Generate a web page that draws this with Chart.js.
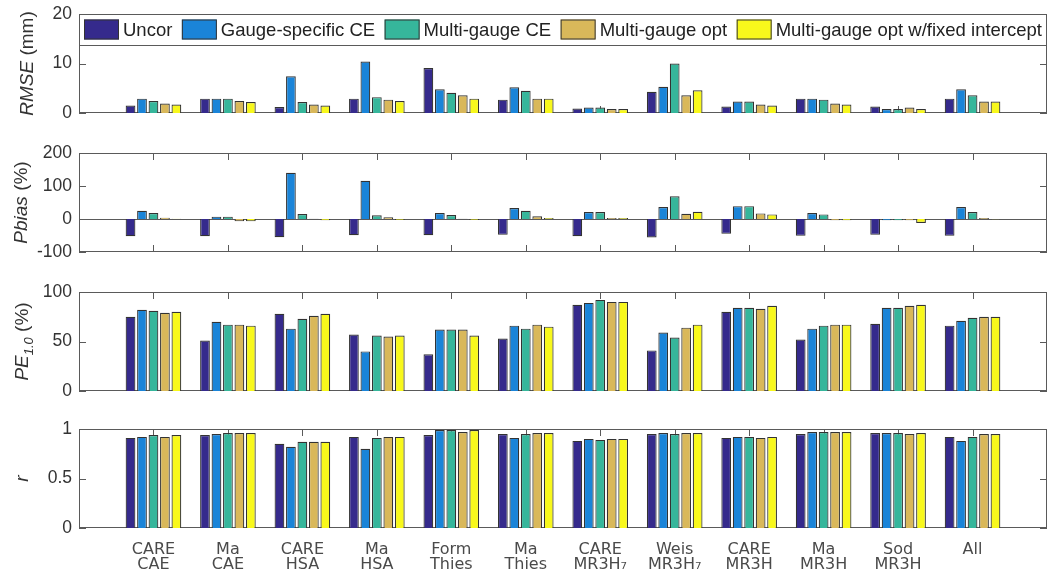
<!DOCTYPE html>
<html>
<head>
<meta charset="utf-8">
<script src="https://cdn.jsdelivr.net/npm/chart.js@4.4.1/dist/chart.umd.min.js"></script>
<style>
  body { margin: 0; background: #fff; }
  #wrap { position: relative; width: 1051px; height: 576px; overflow: hidden; }
  #wrap canvas { position: absolute; left: 0; }
</style>
</head>
<body>
<div id="wrap">
  <canvas id="rmse"></canvas>
  <canvas id="pbias"></canvas>
  <canvas id="pe"></canvas>
  <canvas id="r"></canvas>
</div>
<script>
const sites = [
  ['CARE', 'CAE'], ['Ma', 'CAE'], ['CARE', 'HSA'], ['Ma', 'HSA'],
  ['Form', 'Thies'], ['Ma', 'Thies'], ['CARE', 'MR3H\u2087'], ['Weis', 'MR3H\u2087'],
  ['CARE', 'MR3H'], ['Ma', 'MR3H'], ['Sod', 'MR3H'], ['All']
];
const seriesNames = ['Uncor', 'Gauge-specific CE', 'Multi-gauge CE', 'Multi-gauge opt', 'Multi-gauge opt w/fixed intercept'];
const seriesColors = ['#352a8c', '#1a84d8', '#36b69b', '#d9b85a', '#f8f81c'];

// one row per series, one value per site
const rmseValues = [
  [1.5, 2.9, 1.2, 2.9, 9.1, 2.7, 0.9, 4.3, 1.3, 2.9, 1.3, 2.9],
  [2.9, 2.9, 7.4, 10.4, 4.8, 5.2, 1.1, 5.3, 2.3, 2.9, 0.8, 4.8],
  [2.4, 2.9, 2.2, 3.2, 4.1, 4.5, 1.1, 10.0, 2.3, 2.7, 0.8, 3.6],
  [1.9, 2.4, 1.7, 2.7, 3.6, 2.9, 0.8, 3.6, 1.7, 1.9, 1.1, 2.3],
  [1.7, 2.2, 1.5, 2.4, 2.9, 2.9, 0.8, 4.6, 1.5, 1.7, 0.8, 2.3]
];
const pbiasValues = [
  [-52, -52, -55, -49, -49, -48, -52, -56, -45, -51, -48, -51],
  [25, 7, 140, 116, 18, 33, 21, 36, 39, 18, -4, 36],
  [18, 7, 15, 11, 12, 25, 21, 69, 39, 14, -4, 21],
  [4, -7, 0.5, 5, 0.5, 8, 3, 16, 17, -4, -4, 3],
  [1, -7, -4, -3, -3, 3, 3, 22, 14, -4, -12, -1]
];
const peValues = [
  [75, 51, 78, 57, 37, 53, 87, 41, 80, 52, 68, 66],
  [82, 70, 63, 40, 62, 66, 89, 59, 84, 63, 84, 71],
  [81, 67, 73, 56, 62, 63, 92, 54, 84, 66, 84, 74],
  [79, 67, 76, 55, 62, 67, 90, 64, 83, 67, 86, 75],
  [80, 66, 78, 56, 56, 65, 90, 67, 86, 67, 87, 75]
];
const rValues = [
  [0.91, 0.94, 0.85, 0.92, 0.94, 0.95, 0.88, 0.95, 0.91, 0.95, 0.96, 0.92],
  [0.92, 0.95, 0.82, 0.80, 0.99, 0.91, 0.90, 0.96, 0.92, 0.97, 0.96, 0.88],
  [0.94, 0.96, 0.87, 0.91, 0.99, 0.95, 0.89, 0.95, 0.92, 0.97, 0.96, 0.92],
  [0.92, 0.96, 0.87, 0.92, 0.97, 0.96, 0.90, 0.96, 0.91, 0.97, 0.95, 0.95],
  [0.94, 0.96, 0.87, 0.92, 0.99, 0.96, 0.90, 0.96, 0.92, 0.97, 0.96, 0.95]
];

const tickFont = { family: '"Liberation Sans", Arial, sans-serif', size: 17.5 };
const axisColor = '#5a5a5a';

// empty slot at each end so the groups sit one step in from the box
const xLabels = [''].concat(sites, ['']);

const framePlugin = {
  id: 'frame',
  beforeDatasetsDraw(chart) {
    const { ctx, chartArea: a, scales: { x, y } } = chart;
    ctx.save();
    ctx.strokeStyle = axisColor;
    ctx.lineWidth = 1;
    ctx.beginPath();
    for (let i = 1; i <= sites.length; i++) {
      const px = Math.round(x.getPixelForValue(i)) + 0.5;
      ctx.moveTo(px, a.top); ctx.lineTo(px, a.top + 7);
      ctx.moveTo(px, a.bottom); ctx.lineTo(px, a.bottom - 7);
    }
    y.ticks.forEach(t => {
      const py = Math.round(y.getPixelForValue(t.value)) + 0.5;
      ctx.moveTo(a.left, py); ctx.lineTo(a.left + 7, py);
      ctx.moveTo(a.right, py); ctx.lineTo(a.right - 7, py);
    });
    if (y.min < 0) {
      const pz = Math.round(y.getPixelForValue(0)) + 0.5;
      ctx.moveTo(a.left, pz); ctx.lineTo(a.right, pz);
    }
    ctx.stroke();
    ctx.strokeRect(a.left + 0.5, a.top + 0.5, a.width - 1, a.height - 1);
    ctx.restore();
  }
};

const titlePlugin = {
  id: 'yTitle',
  afterDraw(chart, args, opts) {
    const { ctx, chartArea: a } = chart;
    const parts = opts.parts;
    const size = 19;
    ctx.save();
    ctx.translate(opts.x, (a.top + a.bottom) / 2);
    ctx.rotate(-Math.PI / 2);
    ctx.fillStyle = '#333';
    ctx.textBaseline = 'alphabetic';
    const fontOf = p => (p.italic ? 'italic ' : '') + (p.sub ? 13 : size) + 'px "Liberation Sans", Arial, sans-serif';
    let total = 0;
    parts.forEach(p => { ctx.font = fontOf(p); total += ctx.measureText(p.text).width; });
    let cx = -total / 2;
    parts.forEach(p => {
      ctx.font = fontOf(p);
      ctx.fillText(p.text, cx, p.sub ? 5 : 0);
      cx += ctx.measureText(p.text).width;
    });
    ctx.restore();
  }
};

const legendPlugin = {
  id: 'boxLegend',
  afterDatasetsDraw(chart, args, opts) {
    if (!opts.show) return;
    const { ctx, chartArea: a } = chart;
    const h = 31, sw = 35, sh = 20, pad = 5, gapText = 4;
    ctx.save();
    ctx.fillStyle = '#fff';
    ctx.fillRect(a.left, a.top, a.width, h);
    ctx.strokeStyle = axisColor;
    ctx.lineWidth = 1;
    ctx.strokeRect(a.left + 0.5, a.top + 0.5, a.width - 1, h);
    ctx.font = '18.5px "Liberation Sans", Arial, sans-serif';
    const widths = seriesNames.map(n => ctx.measureText(n).width);
    const used = widths.reduce((s, w) => s + sw + gapText + w, 0);
    const gap = (a.width - 2 * pad - used) / (seriesNames.length - 1);
    const cy = a.top + h / 2;
    let cx = a.left + pad;
    seriesNames.forEach((n, i) => {
      ctx.fillStyle = seriesColors[i];
      ctx.fillRect(cx, cy - sh / 2, sw, sh);
      ctx.strokeStyle = '#333';
      ctx.strokeRect(cx + 0.5, cy - sh / 2 + 0.5, sw - 1, sh - 1);
      ctx.fillStyle = '#222';
      ctx.textBaseline = 'middle';
      ctx.fillText(n, cx + sw + gapText, cy + 1);
      cx += sw + gapText + widths[i] + gap;
    });
    ctx.restore();
  }
};

const panels = [
  { id: 'rmse', top: 0, height: 127, values: rmseValues, min: 0, max: 20, step: 10, titleX: 33,
    title: [{ text: 'RMSE', italic: true }, { text: ' (mm)' }], legend: true },
  { id: 'pbias', top: 139, height: 127, values: pbiasValues, min: -100, max: 200, step: 100, titleX: 27,
    title: [{ text: 'Pbias', italic: true }, { text: ' (%)' }] },
  { id: 'pe', top: 278, height: 127, values: peValues, min: 0, max: 100, step: 50, titleX: 28,
    title: [{ text: 'PE', italic: true }, { text: '1.0', italic: true, sub: true }, { text: ' (%)' }] },
  { id: 'r', top: 415, height: 161, values: rValues, min: 0, max: 1, step: 0.5, titleX: 28,
    title: [{ text: 'r', italic: true }], xAxis: true }
];

panels.forEach(p => {
  const canvas = document.getElementById(p.id);
  canvas.width = 1051;
  canvas.height = p.height;
  canvas.style.top = p.top + 'px';
  canvas.style.width = '1051px';
  canvas.style.height = p.height + 'px';

  new Chart(canvas, {
    type: 'bar',
    data: {
      labels: xLabels,
      datasets: p.values.map((vals, i) => ({
        label: seriesNames[i],
        data: [null].concat(vals, [null]),
        backgroundColor: seriesColors[i],
        borderColor: '#333',
        borderWidth: 1.2,
        categoryPercentage: 0.77,
        barPercentage: 0.85
      }))
    },
    options: {
      responsive: false,
      animation: false,
      events: [],
      layout: { padding: { top: 14, bottom: p.xAxis ? 0 : 14, left: 0, right: 4 } },
      scales: {
        x: {
          display: !!p.xAxis,
          offset: false,
          grid: { display: false, drawTicks: false },
          border: { display: false },
          ticks: {
            autoSkip: false,
            maxRotation: 0,
            padding: 14,
            color: '#4a4a4a',
            font: { family: '"DejaVu Sans", sans-serif', size: 16, lineHeight: 0.95 }
          },
          afterFit: s => {
            s.paddingLeft = 0;
            s.paddingRight = 0;
            if (p.xAxis) s.height = 48;
          }
        },
        y: {
          min: p.min,
          max: p.max,
          grid: { display: false, drawTicks: false },
          border: { display: false },
          ticks: {
            stepSize: p.step,
            padding: 7,
            color: '#333',
            font: tickFont,
            callback: v => String(Math.round(v * 100) / 100)
          },
          afterFit: s => {
            s.width = 79;
            s.paddingTop = 0;
            s.paddingBottom = 0;
          }
        }
      },
      plugins: {
        legend: { display: false },
        tooltip: { enabled: false },
        yTitle: { parts: p.title, x: p.titleX },
        boxLegend: { show: !!p.legend }
      }
    },
    plugins: [framePlugin, titlePlugin, legendPlugin]
  });
});
</script>
</body>
</html>
